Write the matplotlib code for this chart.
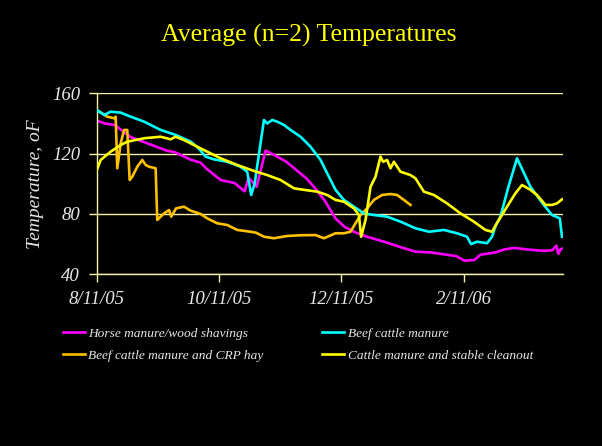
"""Average compost pile temperatures (n=2) for four feedstock mixes."""

import matplotlib
matplotlib.use("Agg")
import matplotlib.pyplot as plt
import numpy as np

START = np.datetime64("2005-08-11")

# days since 8/11/05 and average temperature (oF) for each mix
horse_days = [0, 4, 9, 17, 25, 35, 39, 47, 52, 55, 62, 69, 74, 76, 78, 80, 84.5,
              89, 95, 100, 105, 110, 114.5, 119.5, 124, 129, 135, 144, 152, 159.5,
              167, 175, 180, 184, 189, 192, 199.5, 204, 209, 215, 224, 228, 230,
              231, 232, 233]
horse_temp = [142, 140, 139, 131, 127, 122, 121, 116, 114, 110, 102.5, 100.5, 95,
              104, 101, 98, 122, 119, 114.5, 109, 103.5, 96, 88, 77, 71.5, 68, 65,
              61.5, 58, 55, 54.5, 53, 52, 49, 49.5, 53, 54.5, 56.5, 57.5, 56.5, 55.5,
              56, 59, 53.5, 56.5, 57]

beef_days = [0, 3.7, 7, 12, 17, 23.7, 32, 39.5, 47, 51, 54.5, 58.7, 65.3, 72, 75.3,
             77.3, 79, 81, 83.7, 85.3, 87.8, 90.3, 93.7, 97, 102, 107, 112, 115.3,
             119.5, 123.7, 128.7, 133.7, 138.7, 145.3, 152, 159.5, 166.3, 173.7,
             180.3, 185.3, 187.3, 190.3, 195.3, 197.8, 199.7, 202, 206, 210.3, 217,
             223.7, 227.8, 231.7, 232.8]
beef_temp = [149, 145.6, 147.8, 147.2, 144.5, 141.2, 135.7, 132.4, 128, 123.5, 118,
             116.2, 114.6, 111.3, 108, 92.6, 100, 118, 142.3, 140, 142.3, 141.2, 139,
             135.7, 131.2, 124.6, 115.8, 107, 96, 89.3, 84.8, 80.4, 79.3, 78.2, 74.9,
             70.5, 68.2, 69.4, 67.2, 64.9, 60, 61.6, 60.6, 64.9, 72.5, 78.2, 98,
             116.9, 98, 86, 79.3, 77.1, 64.9]

crp_days = [0, 2.8, 5.3, 9, 9.5, 10.3, 12, 13.7, 15.3, 16.5, 17.8, 20.3, 22.8, 24.5,
            26.2, 29.5, 30.3, 33.7, 36.2, 37.3, 39.7, 43.7, 47, 52, 55.3, 60.3, 65.3,
            70.3, 77, 79.7, 83.7, 88.7, 95.3, 102, 109.5, 113.7, 119.5, 123.7, 127,
            129.5, 132, 135.3, 138.7, 142.8, 147, 150.3, 153.7, 157]
crp_temp = [149, 146.7, 144.5, 143.4, 144.5, 110.3, 126.8, 135.7, 135.7, 102.5, 104.7,
            111.3, 115.8, 112.5, 111.3, 110.3, 76, 80.4, 82.6, 78.2, 83.7, 84.8, 82.2,
            80, 77.1, 73.8, 72.7, 69.4, 68.2, 67.6, 64.9, 63.9, 65.4, 65.9, 66, 63.9,
            67.2, 67.2, 68.2, 73.8, 79.3, 83.7, 89.3, 92.6, 93.2, 92.6, 89.3, 86]

stable_days = [0, 2, 7, 12, 15.3, 23.7, 32, 37, 39.5, 43.7, 50.3, 55.3, 62, 70.3,
               78.7, 85.3, 92, 98.7, 103.7, 110.3, 115.3, 119.5, 123.7, 128.7, 131.2,
               132.3, 134.5, 137, 139.5, 142, 143.3, 145.3, 147, 148.7, 152, 157,
               159.5, 163.7, 168.7, 175.3, 182, 188.7, 194.5, 197.8, 199.7, 205.3,
               209.5, 212.8, 217, 220.3, 224.5, 227.8, 230.3, 232.8]
stable_temp = [109, 115.8, 121.3, 125.7, 127.9, 130.2, 131.2, 129.5, 131.2, 129,
               124.6, 121.3, 116.9, 112.5, 108.5, 105.8, 102.5, 97, 96, 94.8, 92.6,
               89.3, 88.1, 83.7, 79.3, 64.9, 76, 98, 104.7, 118, 114.6, 115.8, 110.3,
               114.6, 108, 105.8, 103.6, 94.8, 92.6, 87, 80.4, 74.9, 69.4, 68.2, 72.7,
               84.8, 93.7, 99.2, 96, 92.6, 86, 86, 87, 89.7]

tick_dates = ["2005-08-11", "2005-10-11", "2005-12-11", "2006-02-11"]
tick_labels = ["8/11/05", "10/11/05", "12/11/05", "2/11/06"]
y_ticks = [40, 80, 120, 160]

GRID = "#f5f0a8"
TEXT = "#e8e8e8"
plt.rcParams["font.family"] = ["Liberation Serif", "DejaVu Serif"]

fig = plt.figure(figsize=(6.02, 4.46), dpi=100, facecolor="black")
ax = fig.add_axes([0.1606, 0.385, 0.7746, 0.4058], facecolor="black")

series = [
    (horse_days, horse_temp, "#ff00ff", "Horse manure/wood shavings"),
    (crp_days, crp_temp, "#ffc000", "Beef cattle manure and CRP hay"),
    (beef_days, beef_temp, "#00ffff", "Beef cattle manure"),
    (stable_days, stable_temp, "#ffff00", "Cattle manure and stable cleanout"),
]
handles = []
for days, temp, color, label in series:
    h, = ax.plot(days, temp, color=color, lw=1.9, label=label,
                 solid_joinstyle="round")
    handles.append(h)
# beef cattle and stable lines sit on top of the others
handles[2].set_zorder(3)
handles[3].set_zorder(4)

tick_pos = (np.array(tick_dates, dtype="datetime64[D]") - START).astype(int)
ax.set_xlim(0, 233.3)
ax.set_ylim(40, 160)
ax.set_xticks(tick_pos, tick_labels)
ax.set_yticks(y_ticks)
ax.yaxis.grid(True, color=GRID, lw=1.0)
ax.set_axisbelow(True)
for side in ["top", "right"]:
    ax.spines[side].set_visible(False)
for side in ["left", "bottom"]:
    ax.spines[side].set_color(GRID)
    ax.spines[side].set_linewidth(1.0)
ax.tick_params(colors=GRID, length=6, width=1.0, labelcolor=TEXT,
               labelsize=13.5, pad=6)
for lbl in ax.get_xticklabels() + ax.get_yticklabels():
    lbl.set_fontstyle("italic")
ax.set_ylabel("Temperature, oF", color=TEXT, fontsize=14, style="italic")
ax.yaxis.set_label_coords(-0.112, 0.5)

fig.text(0.513, 0.92, "Average (n=2) Temperatures", color="#ffff00",
         fontsize=18.5, ha="center", va="center")

leg = fig.legend(handles=handles, loc="upper left",
                 bbox_to_anchor=(63 / 602, 1 - 327.5 / 446), ncol=2,
                 frameon=False, fontsize=9.6, handlelength=1.65,
                 handletextpad=0.25, columnspacing=4.4, labelspacing=0.75,
                 borderpad=0, borderaxespad=0)
for t in leg.get_texts():
    t.set_color(TEXT)
    t.set_fontstyle("italic")

fig.savefig("out.png", dpi=100, facecolor="black")
